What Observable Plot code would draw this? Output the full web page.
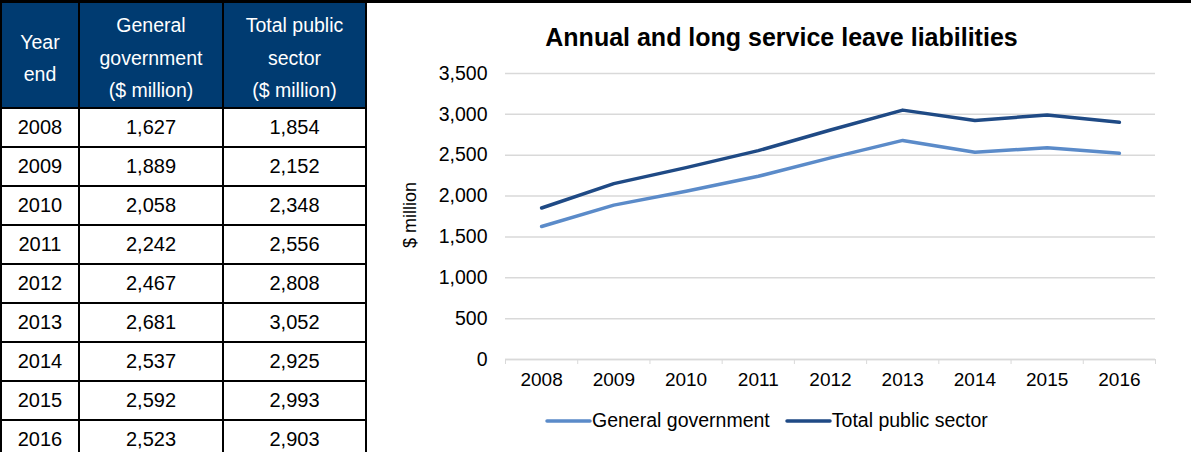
<!DOCTYPE html>
<html><head><meta charset="utf-8">
<script src="https://cdn.jsdelivr.net/npm/d3@7"></script>
<script src="https://cdn.jsdelivr.net/npm/@observablehq/plot@0.6"></script>
<style>
body{margin:0;width:1193px;height:452px;overflow:hidden;background:#fff;font-family:"Liberation Sans",Arial,sans-serif;position:relative}
#topline{position:absolute;left:0;top:0;width:1191px;height:3px;background:#000}
table{position:absolute;left:0;top:1px;border-collapse:collapse;table-layout:fixed;font-size:20px;color:#000}
td,th{border:2px solid #000;text-align:center;padding:0}
th{background:#003B71;color:#fff;font-weight:normal;height:98px;padding-top:6px;line-height:32.5px;vertical-align:middle;font-size:19.5px}
td{height:37px}
#title{position:absolute;left:370px;width:823px;top:22px;text-align:center;font-weight:bold;font-size:25px;line-height:30px}
#ylab{position:absolute;left:410px;top:215px;transform:translate(-50%,-50%) rotate(-90deg);font-size:18px;white-space:nowrap}
#chart{position:absolute;left:370px;top:0}
#legend{position:absolute;top:409px;left:544px;font-size:19.5px;display:flex;align-items:center}
#legend span.it{display:flex;align-items:center;margin-right:14px}
</style></head>
<body>
<div id="topline"></div>
<table id="tbl"><colgroup><col style="width:78px"><col style="width:144px"><col style="width:143px"></colgroup></table>
<div id="chart"></div>
<div id="title">Annual and long service leave liabilities</div>
<div id="ylab">$ million</div>
<div id="legend"></div>
<script>
const years = [2008, 2009, 2010, 2011, 2012, 2013, 2014, 2015, 2016];
const generalGov = [1627, 1889, 2058, 2242, 2467, 2681, 2537, 2592, 2523];
const totalPublic = [1854, 2152, 2348, 2556, 2808, 3052, 2925, 2993, 2903];
const seriesNames = ["General government", "Total public sector"];
const seriesColors = ["#5B8BC9", "#1F4A85"];
const headers = [["Year", "end"], ["General", "government", "($ million)"], ["Total public", "sector", "($ million)"]];
const yTicks = [0, 500, 1000, 1500, 2000, 2500, 3000, 3500];

const fmt = d3.format(",");
// table
const tbl = document.getElementById("tbl");
const hr = document.createElement("tr");
headers.forEach(h => { const th = document.createElement("th"); th.innerHTML = h.join("<br>"); hr.appendChild(th); });
tbl.appendChild(hr);
years.forEach((y, i) => {
  const tr = document.createElement("tr");
  [String(y), fmt(generalGov[i]), fmt(totalPublic[i])].forEach(v => { const td = document.createElement("td"); td.textContent = v; tr.appendChild(td); });
  tbl.appendChild(tr);
});

const data = [];
years.forEach((y, i) => {
  data.push({year: y, value: generalGov[i], series: seriesNames[0]});
  data.push({year: y, value: totalPublic[i], series: seriesNames[1]});
});
const edges = years.map(y => y - 0.5).concat([years[years.length - 1] + 0.5]);

const chart = Plot.plot({
  width: 823, height: 452,
  marginLeft: 135, marginRight: 38, marginTop: 73, marginBottom: 93,
  style: {fontFamily: '"Liberation Sans", Arial, sans-serif', fontSize: "19px", color: "#000", background: "transparent"},
  x: {type: "linear", domain: [edges[0], edges[edges.length - 1]]},
  y: {domain: [0, 3500]},
  color: {domain: seriesNames, range: seriesColors},
  marks: [
    Plot.gridY(yTicks, {stroke: "#d9d9d9", strokeOpacity: 1, strokeWidth: 1.5}),
    Plot.axisY(yTicks, {tickSize: 0, tickPadding: 18, tickFormat: fmt, label: null, fontSize: 19.5}),
    Plot.axisX(edges, {tickSize: 5, tickFormat: () => "", stroke: "#d9d9d9", label: null}),
    Plot.axisX(years, {tickSize: 0, tickPadding: 13, tickFormat: d => String(d), label: null, fontSize: 19}),
    Plot.ruleY([0], {stroke: "#d9d9d9", strokeWidth: 1.5}),
    Plot.line(data, {x: "year", y: "value", z: "series", stroke: "series", strokeWidth: 3.5})
  ]
});
document.getElementById("chart").appendChild(chart);

const lg = document.getElementById("legend");
seriesNames.forEach((n, i) => {
  const s = document.createElement("span"); s.className = "it";
  s.innerHTML = `<svg width="48" height="10"><line x1="3" x2="46" y1="5" y2="5" stroke="${seriesColors[i]}" stroke-width="3.5" stroke-linecap="round"/></svg><span>${n}</span>`;
  lg.appendChild(s);
});
</script>
</body></html>
